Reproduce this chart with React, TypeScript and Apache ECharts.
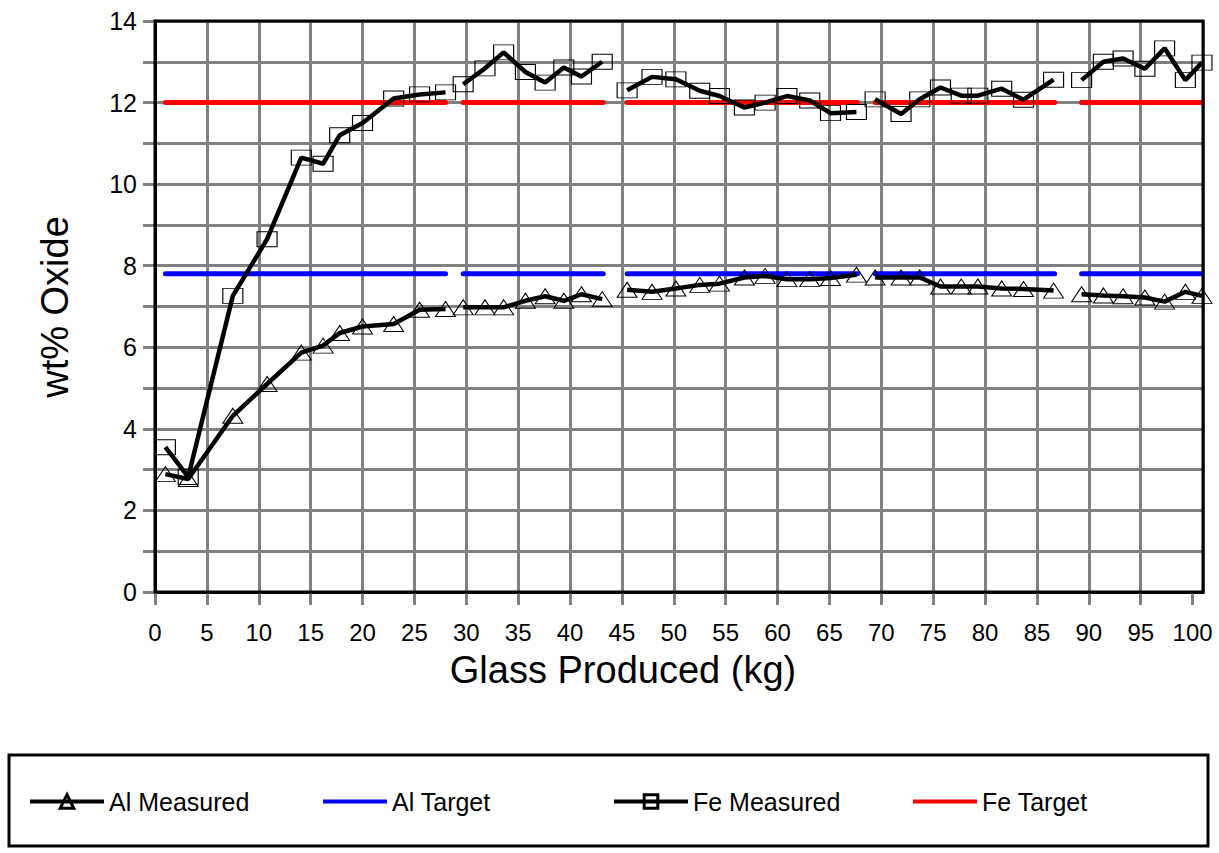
import React, { useEffect, useRef } from 'react';
import * as echarts from 'echarts';

const kgRuns: number[][] = [
  [1.0, 3.2, 7.5, 10.8, 14.1, 16.2, 17.8, 20.0, 23.0, 25.5, 28.0],
  [29.7, 31.8, 33.6, 35.7, 37.6, 39.4, 41.1, 43.1],
  [45.5, 47.9, 50.2, 52.5, 54.4, 56.8, 58.8, 60.9, 63.1, 65.1, 67.6],
  [69.4, 71.9, 73.7, 75.7, 77.7, 79.3, 81.6, 83.7, 86.6],
  [89.3, 91.4, 93.3, 95.4, 97.3, 99.3, 100.9],
];
const alMeasuredRuns: number[][] = [
  [2.89, 2.77, 4.32, 5.1, 5.87, 6.04, 6.35, 6.51, 6.57, 6.92, 6.94],
  [6.98, 6.98, 6.98, 7.14, 7.25, 7.14, 7.3, 7.18],
  [7.41, 7.36, 7.44, 7.53, 7.56, 7.71, 7.75, 7.67, 7.67, 7.7, 7.78],
  [7.71, 7.71, 7.71, 7.49, 7.49, 7.49, 7.44, 7.43, 7.39],
  [7.3, 7.27, 7.25, 7.22, 7.12, 7.36, 7.26],
];
const feMeasuredRuns: number[][] = [
  [3.55, 2.82, 7.26, 8.65, 10.65, 10.5, 11.2, 11.5, 12.1, 12.2, 12.25],
  [12.45, 12.84, 13.23, 12.75, 12.49, 12.86, 12.64, 13.0],
  [12.3, 12.63, 12.57, 12.29, 12.16, 11.88, 12.0, 12.16, 12.05, 11.74, 11.77],
  [12.08, 11.72, 12.08, 12.37, 12.17, 12.17, 12.34, 12.07, 12.56],
  [12.55, 13.0, 13.08, 12.83, 13.33, 12.55, 12.98],
];
const targetRuns: number[][] = [
  [1.0, 28.0],
  [29.7, 43.2],
  [45.5, 67.7],
  [69.4, 86.7],
  [89.3, 100.9],
];
const alTarget = 7.8;
const feTarget = 12;
const seriesNames = ['Al Measured', 'Al Target', 'Fe Measured', 'Fe Target'];
const xTitle = 'Glass Produced (kg)';
const yTitle = 'wt% Oxide';
const xTickValues = [0, 5, 10, 15, 20, 25, 30, 35, 40, 45, 50, 55, 60, 65, 70, 75, 80, 85, 90, 95, 100, 101];
const hiddenGridValue = 100;

const FONT = "'Liberation Sans', Arial, sans-serif";

function runsToData(xs: number[][], ys: number[][]) {
  const out: any[] = [];
  xs.forEach((run, i) => {
    run.forEach((x, j) => out.push([x, ys[i][j]]));
    if (i < xs.length - 1) out.push([(run[run.length - 1] + xs[i + 1][0]) / 2, '-']);
  });
  return out;
}

function targetData(v: number) {
  const out: any[] = [];
  targetRuns.forEach((r, i) => {
    out.push([r[0], v], [r[1], v]);
    if (i < targetRuns.length - 1) out.push([(r[1] + targetRuns[i + 1][0]) / 2, '-']);
  });
  return out;
}

export default function App() {
  const ref = useRef<HTMLDivElement>(null);
  useEffect(() => {
    if (!ref.current) return;
    const chart = echarts.init(ref.current, undefined, { renderer: 'svg' });
    const markerStyle = { color: 'transparent', borderColor: '#000', borderWidth: 1 };
    const textStyle = { fontSize: 24, color: '#000', fontFamily: FONT };
    const legendText = { ...textStyle, fontSize: 25 };
    const measuredLegend = {
      top: 789,
      padding: 0,
      itemWidth: 74,
      itemHeight: 17,
      itemGap: 0,
      selectedMode: false,
      textStyle: legendText,
      lineStyle: { width: 4, color: '#000' },
      itemStyle: { borderWidth: 3, borderColor: '#000', color: 'transparent' },
    };
    const targetLegend = {
      top: 789,
      padding: 0,
      itemWidth: 64,
      itemHeight: 4,
      itemGap: 0,
      icon: 'rect',
      selectedMode: false,
      textStyle: legendText,
    };
    const splitColors = xTickValues.map((v) => (v === hiddenGridValue ? 'rgba(0,0,0,0)' : '#808080'));
    chart.setOption({
      animation: false,
      backgroundColor: '#fff',
      grid: { left: 155, top: 21, right: 16, bottom: 261, containLabel: false },
      xAxis: {
        type: 'value',
        min: 0,
        max: 101,
        interval: 5,
        axisLine: { show: true, onZero: false, lineStyle: { color: '#000', width: 3 } },
        axisTick: { show: true, length: 13, lineStyle: { color: '#808080', width: 3 } },
        axisLabel: { showMaxLabel: false, margin: 28, ...textStyle },
        splitLine: { show: true, lineStyle: { color: splitColors, width: 3 } },
      },
      yAxis: {
        type: 'value',
        min: 0,
        max: 14,
        interval: 1,
        axisLine: { show: true, lineStyle: { color: '#000', width: 3 } },
        axisTick: { show: true, length: 12, lineStyle: { color: '#808080', width: 3 } },
        axisLabel: {
          margin: 18,
          ...textStyle,
          fontSize: 25,
          formatter: (v: number) => (v % 2 === 0 ? String(v) : ''),
        },
        splitLine: { show: true, lineStyle: { color: '#808080', width: 3 } },
      },
      legend: [
        { ...measuredLegend, left: 28, data: [seriesNames[0]] },
        { ...targetLegend, left: 323, data: [seriesNames[1]] },
        { ...measuredLegend, left: 612, data: [seriesNames[2]] },
        { ...targetLegend, left: 913, data: [seriesNames[3]] },
      ],
      series: [
        {
          name: seriesNames[0],
          type: 'line',
          data: runsToData(kgRuns, alMeasuredRuns),
          symbol: 'triangle',
          symbolSize: [20, 15],
          itemStyle: markerStyle,
          lineStyle: { color: '#000', width: 4.5 },
          connectNulls: false,
          z: 5,
        },
        {
          name: seriesNames[1],
          type: 'line',
          data: targetData(alTarget),
          symbol: 'none',
          itemStyle: { color: '#0000ff' },
          lineStyle: { color: '#0000ff', width: 5, cap: 'round' },
          z: 3,
        },
        {
          name: seriesNames[2],
          type: 'line',
          data: runsToData(kgRuns, feMeasuredRuns),
          symbol: 'rect',
          symbolSize: [20, 15],
          itemStyle: markerStyle,
          lineStyle: { color: '#000', width: 4.5 },
          connectNulls: false,
          z: 5,
        },
        {
          name: seriesNames[3],
          type: 'line',
          data: targetData(feTarget),
          symbol: 'none',
          itemStyle: { color: '#ff0000' },
          lineStyle: { color: '#ff0000', width: 5, cap: 'round' },
          z: 3,
        },
      ],
      graphic: [
        {
          type: 'rect',
          z: 100,
          shape: { x: 155, y: 21, width: 1048, height: 571 },
          style: { fill: 'none', stroke: '#000', lineWidth: 3 },
          silent: true,
        },
        {
          type: 'text',
          x: 623,
          y: 670,
          style: { text: xTitle, font: `38px ${FONT}`, fill: '#000', textAlign: 'center', textVerticalAlign: 'middle' },
        },
        {
          type: 'text',
          x: 55,
          y: 307,
          rotation: Math.PI / 2,
          style: { text: yTitle, font: `38px ${FONT}`, fill: '#000', textAlign: 'center', textVerticalAlign: 'middle' },
        },
        {
          type: 'rect',
          z: 1,
          shape: { x: 9, y: 755, width: 1199, height: 91 },
          style: { fill: 'none', stroke: '#000', lineWidth: 3 },
          silent: true,
        },
      ],
    });
    return () => chart.dispose();
  }, []);
  return (
    <div
      ref={ref}
      style={{ position: 'fixed', left: 0, top: 0, width: 1219, height: 853, background: '#fff' }}
    />
  );
}
